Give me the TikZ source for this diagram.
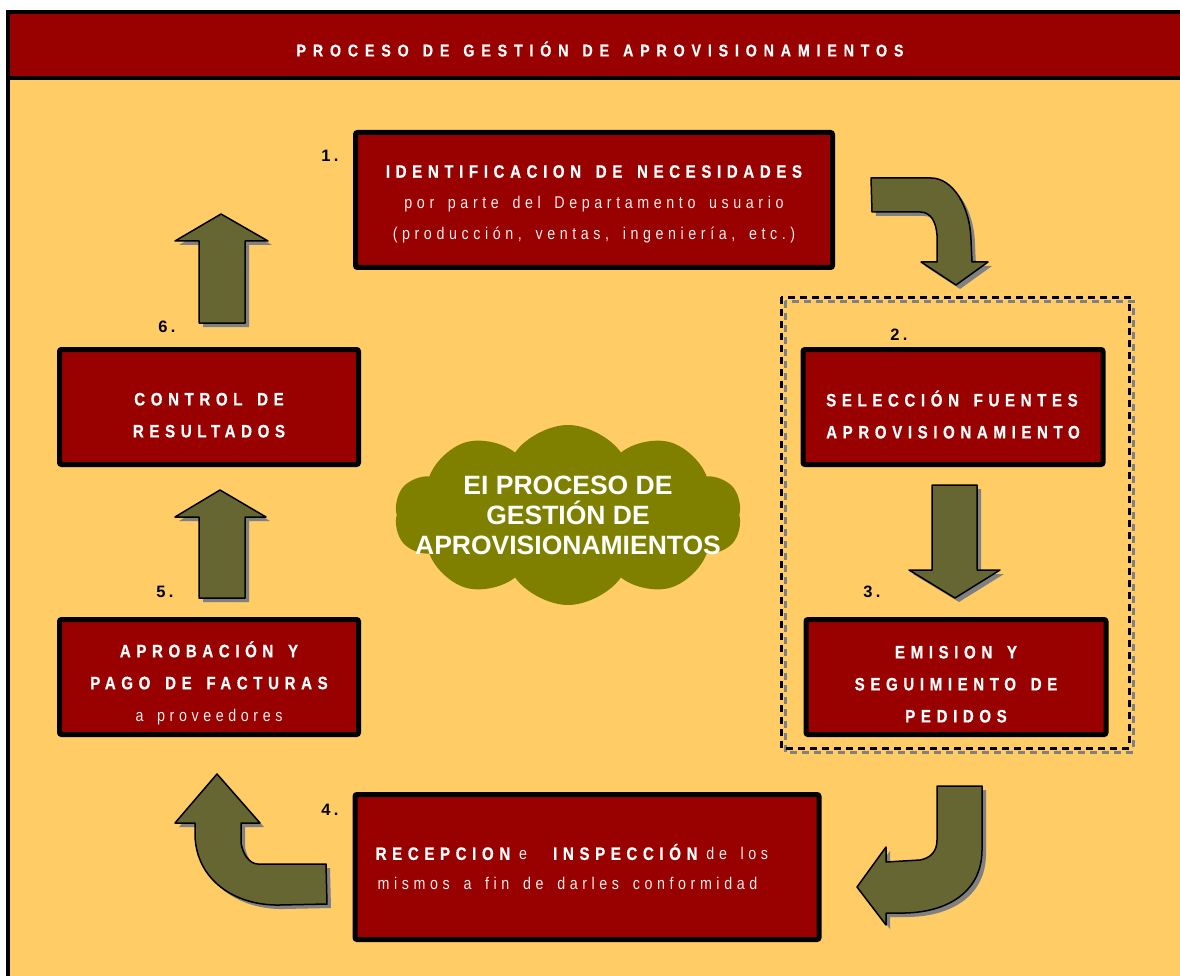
\documentclass[tikz,border=0pt]{standalone}
\usepackage{fontspec}
\setmainfont{Liberation Sans}
\usetikzlibrary{shapes.symbols,shadows}

\newfontfamily\headfont[LetterSpace=31,WordSpace=1.5,FakeStretch=0.84,FakeBold=0.6]{Liberation Sans}
\newfontfamily\subfont[LetterSpace=27,WordSpace=1.6,FakeStretch=0.84]{Liberation Sans}
\newfontfamily\titlefont[LetterSpace=40,WordSpace=1.3,FakeStretch=0.84,FakeBold=0.5]{Liberation Sans}
\newfontfamily\numfont[LetterSpace=20]{Liberation Sans}

\definecolor{boxred}{HTML}{990000}
\definecolor{panel}{HTML}{FFCC66}
\definecolor{arrowolive}{HTML}{666633}
\definecolor{cloudolive}{HTML}{808000}
\definecolor{shadowgray}{HTML}{808080}
\colorlet{subtext}{white!92!boxred}

\newcommand{\boxhead}{\headfont\bfseries\fontsize{18}{31}\selectfont\color{white}}
\newcommand{\boxsub}{\subfont\mdseries\fontsize{17}{31}\selectfont\color{subtext}}
\newcommand{\topgap}[1]{\rule{0pt}{#1}}

\tikzset{
  stepbox/.style={draw=black, line width=5pt, fill=boxred, rounded corners=2pt,
    align=center, inner sep=4pt, font=\fontsize{17}{32}\selectfont},
  steptext/.style={align=left, inner sep=0pt, font=\fontsize{17}{30}\selectfont},
  stepnum/.style={font=\numfont\bfseries\fontsize{16.5}{16.5}\selectfont, text=black},
  bigarrow/.style={fill=arrowolive, draw=black, line width=1.5pt, line join=round,
    drop shadow={shadow xshift=4pt, shadow yshift=-4pt, fill=shadowgray, opacity=1}},
  groupline/.style={line width=3pt, dash pattern=on 7pt off 5pt},
}

\begin{document}
\begin{tikzpicture}[x=1pt, y=-1pt]
\clip (0,0) rectangle (1180,976);
\fill[white] (0,0) rectangle (1180,976);

% frame and banner
\fill[panel] (8,12) rectangle (1195,995);
\fill[boxred] (8,12) rectangle (1195,78);
\draw[line width=4pt] (8,12) rectangle (1195,995);
\draw[line width=4pt] (8,78) -- (1195,78);
\node[text=white, font=\titlefont\bfseries\fontsize{17}{17}\selectfont] (title) at (600,49)
  {PROCESO DE GESTIÓN DE APROVISIONAMIENTOS};

% dashed group around steps 2 and 3
\draw[groupline, shadowgray] (785,301) rectangle (1133,752);
\draw[groupline, black] (781,297) rectangle (1129,748);

% the six steps
\node[stepbox, minimum width=477pt, minimum height=135pt, font=\fontsize{17}{31}\selectfont] (ident) at (594,200)
  {\topgap{21pt}{\boxhead IDENTIFICACION DE NECESIDADES}\\
   {\boxsub por parte del Departamento usuario}\\
   {\boxsub (producción, ventas, ingeniería, etc.)}};
\node[stepbox, minimum width=300pt, minimum height=115pt, align=left] (select) at (953,407)
  {\topgap{31pt}{\boxhead SELECCIÓN FUENTES}\\{\boxhead APROVISIONAMIENTO}};
\node[stepbox, minimum width=300pt, minimum height=115pt] (emision) at (956,677)
  {\topgap{27pt}{\boxhead EMISION Y}\\{\boxhead SEGUIMIENTO DE}\\{\boxhead PEDIDOS}};
\node[stepbox, minimum width=464pt, minimum height=145pt] (recep) at (587,867) {};
\node[steptext, anchor=west] (recepText) at ([xshift=23pt]recep.west)
  {{\boxhead RECEPCION}{\boxsub\hspace*{9pt}e\hspace*{26pt}}{\boxhead INSPECCIÓN}{\boxsub\hspace*{9pt}de los}\\
   {\boxsub\hspace*{2pt}mismos a fin de darles conformidad}};
\node[stepbox, minimum width=299pt, minimum height=115pt] (aprob) at (209,677)
  {\topgap{28pt}{\boxhead APROBACIÓN Y}\\{\boxhead PAGO DE FACTURAS}\\{\boxsub a proveedores}};
\node[stepbox, minimum width=299pt, minimum height=115pt] (control) at (209,407)
  {\topgap{29pt}{\boxhead CONTROL DE}\\{\boxhead RESULTADOS}};

\node[stepnum] (n1) at (330,156) {1.};
\node[stepnum] (n2) at (899,335) {2.};
\node[stepnum] (n3) at (872,592) {3.};
\node[stepnum] (n4) at (330,810) {4.};
\node[stepnum] (n5) at (165,592) {5.};
\node[stepnum] (n6) at (167,327) {6.};

% centre cloud
\node[cloud, cloud puffs=10, cloud puff arc=110, cloud ignores aspect,
      minimum width=347pt, minimum height=180pt, fill=cloudolive] (hub) at (568,515) {};
\node[text=white, align=center, font=\bfseries\fontsize{26.5}{30}\selectfont] (hubText) at (hub)
  {EI PROCESO DE\\GESTIÓN DE\\APROVISIONAMIENTOS};

% block arrows between the steps
\draw[bigarrow] (871,178) -- (931,178) .. controls (952,178) and (970,205) .. (971,240)
  -- (972,262) -- (988,262) -- (956,285) -- (921,262) -- (937,262) -- (937,235)
  .. controls (936,222) and (931,212) .. (920,212) -- (872,212) -- cycle;
\draw[bigarrow] (932,485) -- (977,485) -- (977,570) -- (1000,570) -- (955,598)
  -- (909,570) -- (932,570) -- cycle;
\draw[bigarrow] (937,786) -- (982,786) -- (982,850) .. controls (982,890) and (950,912) .. (905,913)
  -- (886,913) -- (886,925) -- (857,887) -- (886,847) -- (886,862) -- (920,860)
  .. controls (931,858) and (937,851) .. (937,840) -- cycle;
\draw[bigarrow] (326,864) -- (327,904) -- (280,905) .. controls (235,906) and (196,880) .. (195,835)
  -- (195,823) -- (175,823) -- (217,774) -- (260,823) -- (241,823) -- (241,843)
  .. controls (243,855) and (250,864) .. (258,864) -- cycle;
\draw[bigarrow] (199,598) -- (199,517) -- (175,517) -- (220,490) -- (266,517)
  -- (245,517) -- (245,598) -- cycle;
\draw[bigarrow] (199,323) -- (199,241) -- (175,241) -- (221,214) -- (268,241)
  -- (245,241) -- (245,323) -- cycle;
\end{tikzpicture}
\end{document}
